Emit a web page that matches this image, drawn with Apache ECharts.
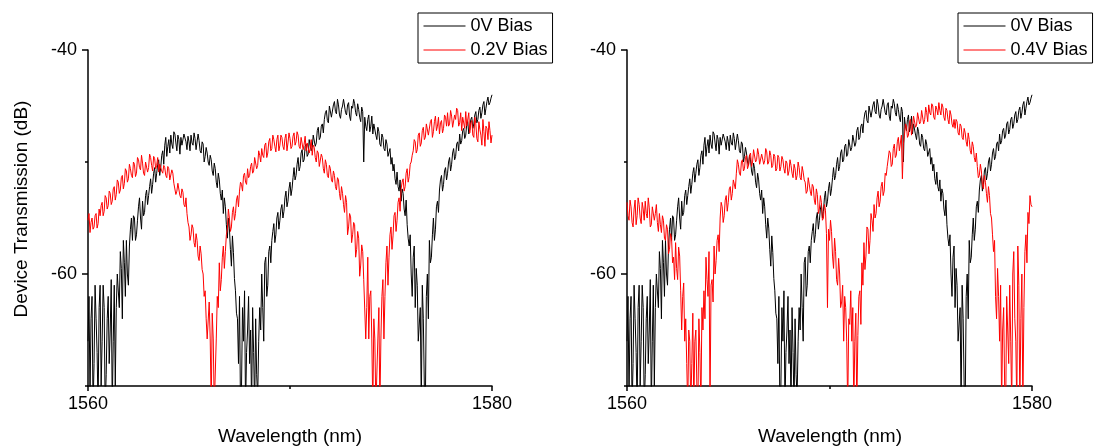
<!DOCTYPE html>
<html>
<head>
<meta charset="utf-8">
<script src="https://cdn.jsdelivr.net/npm/echarts@6/dist/echarts.min.js"></script>
<style>
html,body{margin:0;padding:0;background:#fff;}
#chart{width:1094px;height:447px;}
</style>
</head>
<body>
<div id="chart"></div>
<script>
// Sampling grid: 1560 nm to 1580 nm, 0.05 nm step (401 points)
const wavelengths = Array.from({length: 401}, (_, i) => +(1560 + i * 0.05).toFixed(2));

// 0V Bias (same measurement in both panels), dB
const bias0V = [
  -66,-62,-71,-64,-62,-72,-68,-61,-64,-67,-72,-63,-61,-70,-66,-61,-63,-72,-69,-64,-62,-68,-65,-60.5,-72,-66,-61,-70,-63,-60,
  -60,-63,-58,-59.5,-64,-57,-59,-62,-57,-60,-61,-57.5,
  -56,-55,-57,-54.8,-55,-57,-56.5,-55.2,-54,-53.2,-55,-56,-53.5,-54.8,-54.5,-53,-52.5,-53.8,
  -53,-52.2,-51.5,-52.8,-52,-51,-50.5,-51.8,-51,-50.2,-49.8,-51.2,-50.5,-49.4,-49,-50.2,
  -48.5,-47.8,-49.5,-48.6,-48,-49.2,-47.6,-48.4,-48.8,-47.3,-47.5,-48.3,-49,-47.6,-48,-49.3,-47.8,-48.5,-48.6,-47.5,
  -47.4,-48.2,-48.9,-47.7,-48.2,-49.0,-47.6,-48.3,-48.5,-47.4,-47.9,-48.9,-48.8,-47.5,-48.1,-49.0,-49.2,-48.2,-48.4,-50.0,-49.5,-48.7,
  -49.2,-50.0,-50.3,-49.4,-49.8,-50.8,-51.2,-50.1,-50.6,-51.8,-52.3,-51.0,-51.6,-52.8,-53.4,-52.5,-54.6,-53.2,-54.0,-55.6,
  -56.8,-55.0,-55.9,-57.8,-59.3,-56.6,-58.1,-60.4,-61.5,-63.5,
  -64,-68,-62,-72,-70,-63,-66,-61.5,-72,-67,-65,-62,-68,-65,-72,-63,-67,-72,-64,-69,-71,-66,-63,-65,
  -60,-63,-66,-59,-58.5,-62,-61,-58,-57.5,-59,
  -57,-56.2,-55.5,-57.2,-56.5,-55.0,-54.5,-56.0,-55.2,-54.2,-53.8,-55.0,-54.4,-53.2,-52.6,-54.0,-53.5,-52.4,-51.8,-53.0,-52.4,-51.4,
  -50.5,-51.6,-51.2,-50.2,-49.6,-50.8,-50.4,-49.2,-48.9,-50.0,-49.8,-48.6,-48.4,-49.5,-49.3,-48.0,-47.9,-49.0,-48.7,-47.6,
  -47.5,-48.6,-48.3,-47.2,-46.9,-48.0,-47.8,-46.8,-46.6,-47.4,
  -46.2,-45.6,-45.4,-46.3,-46.5,-45.0,-45.1,-46.0,-45.9,-44.9,-44.6,-45.5,-45.7,-44.4,-44.9,-45.8,-46.1,-45.3,-45.0,-44.4,
  -44.5,-45.6,-45.8,-44.9,-44.7,-45.9,-46.3,-45.0,-45.2,-44.4,-44.8,-45.6,-45.9,-44.8,-45.3,-46.0,-46.4,-45.1,-45.5,-50.0,
  -46.0,-46.8,-47.2,-46.2,-45.8,-47.3,-46.8,-45.9,-47.5,-46.6,-46.6,-47.6,-48.0,-46.9,-47.3,-48.4,-48.6,-47.5,-47.8,-48.8,
  -49.0,-48.0,-48.4,-49.5,-49.6,-48.8,-50.2,-49.6,
  -50.8,-50.2,-51.5,-52.0,-50.9,-52.2,-52.6,-51.6,-53.5,-52.4,-52.8,-54.2,-54.8,-53.4,-55.6,-56.8,
  -57.5,-56.5,-60,-62,-58.5,-57.5,-63,-59.5,-61,-66,-66,-63,-72,-61,-64,-70,-72,-62,
  -60,-64,-57,-59,-58.5,-56.5,-55,-57,-56,-54,-53.5,-54.5,
  -52.5,-51.6,-51.2,-52.6,-52,-50.8,-50.5,-51.6,-51,-50.0,-49.6,-50.8,-50.2,-49.2,-48.8,-49.8,-49.5,-48.4,-48.2,-49.0,
  -47.5,-48.4,-48.1,-47.2,-47.0,-47.9,-47.6,-46.6,-46.4,-47.5,-47.1,-46.2,-46.0,-47.0,-46.6,-45.8,-45.5,-46.5,-46.2,-45.4,
  -45.1,-46.1,-45.6,-44.9,-44.6,-45.8,-45.2,-44.6,-44.2,-44.9,-44.7,-44.3,-44.0
];

// 0.2V Bias (left panel), dB
const bias02V = [
  -55.2,-54.6,-56.3,-55.4,-55,-56.0,-55.8,-54.8,-54.6,-55.9,-55.5,-54.2,
  -54.8,-53.9,-53.6,-54.8,-54.4,-53.0,-53.2,-54.2,-53.9,-52.6,-52.8,-53.8,-53.5,-52.4,-52.2,-53.4,-52.9,-51.6,-51.8,-52.8,
  -52.5,-51.4,-51.2,-52.4,-51.9,-50.6,-50.8,-51.8,-51.5,-50.2,
  -50.6,-51.2,-51.4,-50.0,-50.2,-51.3,-51.0,-49.6,-49.8,-50.5,-50.7,-49.4,-50.1,-51.0,-51.2,-50.0,-49.9,-50.9,-50.5,-49.3,
  -49.6,-50.3,-50.8,-49.5,-49.7,-50.6,-50.3,-49.6,-50.9,-50.2,
  -50.2,-50.8,-51.0,-50.3,-50.5,-51.2,-51.4,-50.4,-50.6,-51.6,-51.5,-50.7,-51.0,-51.9,
  -51.8,-52.9,-52.6,-51.9,-52.0,-53.0,-53.2,-52.4,-52.7,-53.8,-54.0,-53.2,-54.6,-55.4,
  -55.8,-57.0,-56.5,-55.6,-55.9,-57.2,-57.6,-56.4,-57.0,-58.4,-58.8,-57.5,-58.2,-59.6,-60.0,-62.0,
  -61.5,-64,-65.8,-65.8,-62.5,-65.8,-72,-63.5,-65.8,-72,-72,-65.8,
  -62,-63,-59,-61.5,-60.5,-58.5,-57.5,-59.5,-58,-56.5,
  -56,-54.2,-55,-56.2,-55.8,-54.5,-54,-55.2,-54.6,-53.4,-53,-54.0,-52.6,-51.8,
  -52,-52.6,-51.2,-51.0,-51.8,-52.0,-50.6,-51.4,-51.2,-50.4,-50.1,-51.0,-50.8,-49.6,-49.6,-50.6,-50.3,-49.0,-49.4,-50.0,
  -48.8,-49.4,-49.6,-48.5,-48.3,-49.6,-49.2,-48.2,-47.9,-49.0,-48.8,-47.6,-48.0,-48.6,-49.1,-48.0,-47.6,-49.0,-48.5,-47.6,
  -47.8,-48.6,-48.9,-47.9,-47.5,-49.0,-48.3,-47.4,-47.9,-48.8,
  -48.6,-47.7,-47.4,-48.5,-48.2,-47.3,-47.6,-48.6,-48.8,-47.8,-47.9,-48.9,-48.4,-47.7,-49.0,-48.3,-48.2,-49.2,-48.8,-48.0,
  -49.4,-48.5,-48.7,-49.6,-50.0,-49.0,-49.2,-50.4,-50.4,-49.3,-49.6,-50.6,-51.0,-49.8,-50.2,-51.2,-51.4,-50.3,-50.6,-51.6,
  -51.8,-50.8,
  -51.2,-52.2,-52.5,-51.4,-51.6,-52.8,-53.4,-52.2,-52.8,-53.8,-54.5,-53.0,-53.6,-56.5,-55.8,-54.6,-54.9,-57.2,-56.5,-55.4,
  -55.6,-58.5,-57.8,-56.2,-56.8,-60.2,-59.2,-57.4,-58.0,-60.5,
  -60.5,-65.8,-63,-58.5,-65.8,-62,-61.5,-65.8,-72,-64,-65.8,-72,-72,-65.8,-63,-72,-65.8,-62,-60.5,-65.8,-62,-59,
  -57.5,-61,-58.5,-56.5,-55.8,-57.8,-56.6,-54.8,-54.5,-56.2,-55.2,-53.6,-53.2,-54.4,-52.4,-51.8,
  -51.5,-52.6,-52.2,-51.0,-50.6,-51.8,-51.3,-50.2,-50,-49.4,
  -49,-48.0,-48.2,-49.2,-48.9,-47.6,-47.4,-48.6,-48.3,-47.2,-46.9,-48.0,-47.8,-46.6,-46.5,-47.6,-47.6,-46.4,-46.2,-47.8,
  -47.3,-46.4,-45.9,-47.2,-46.8,-46.0,-47.5,-46.5,-46.3,-47.4,-47.0,-45.8,-46.0,-46.8,
  -45.6,-46.8,-46.6,-45.4,-45.9,-46.9,-47.0,-45.8,-46.2,-45.2,-45.4,-46.8,-46.5,-45.6,-47.2,-46.0,-46.1,-47.0,-45.5,-46.8,
  -46.7,-45.6,-47.4,-46.5,-46.3,-47.6,-47.8,-46.0,-46.6,-47.9,-48.2,-46.4,-47.1,-47.6,-48.5,-46.2,-47.3,-48.6,-46.8,-47.0,
  -48.0,-46.4,-47.2,-48.3,-47.6
];

// 0.4V Bias (right panel), dB
const bias04V = [
  -53.6,-54.8,-55.2,-53.4,-54.0,-55.4,-55.8,-54.2,-53.4,-55.6,-54.8,-53.2,-53.8,-55.0,-55.5,-53.6,-54.2,-55.2,-53.5,-54.6,
  -55.0,-53.2,-54.1,-55.8,-55.6,-54.0,-53.9,-55.2,-54.6,-53.8,
  -55.4,-56.2,-54.6,-55.6,-56.3,-54.8,-55.2,-56.8,-57.0,-55.6,-56.0,-58.2,-57.8,-56.4,-56.8,-59.0,
  -58.5,-60.5,-57.2,-59.5,-60.5,-57.6,-58.4,-61.5,-65,-62,-60.8,-66,
  -64,-68,-72,-65,-66,-72,-68,-63.5,-72,-66,-65,-70,-72,-64,-67,-72,-63,-65,
  -61.5,-64,-58.5,-60.5,-62,-58,-72,-61,-60.5,-62.5,-57.5,-60,-58.8,-57,-56.5,-58,
  -55,-53.6,-54,-55.4,-54.8,-53.4,-53,-54.4,-53.6,-52.4,-52.2,-53.4,-52.8,-51.6,-51.5,-52.4,
  -51,-49.8,-50.2,-51.0,-51.2,-50.0,-49.8,-50.8,-50.6,-49.6,-49.4,-50.6,-50.3,-49.4,-49.2,-50.4,-50.0,-48.9,-49.0,-50.0,
  -49.8,-48.8,-49.3,-50.2,-50.1,-49.3,-49.2,-50.2,-49.9,-48.8,
  -49.1,-50.2,-50.0,-49.0,-49.4,-50.5,-50.3,-49.3,-49.5,-50.8,-50.6,-49.4,-49.6,-50.8,-50.4,-49.5,-49.8,-50.6,-51.0,-49.9,
  -50.1,-51.2,-50.8,-49.8,-50.3,-51.0,-51.4,-50.2,-50.6,-51.6,-51.2,-50.0,-50.5,-51.4,-51.6,-50.4,-50.9,-51.6,
  -51.8,-52.8,-52.6,-51.4,-51.5,-52.6,-53.0,-52.0,-52.2,-53.4,-53.8,-52.4,-52.9,-54.6,-54.2,-53.0,-53.6,-55.2,-55.0,-53.8,
  -54.3,-56.4,-63,-56.0,
  -57,-55.2,-56.2,-58.4,-59.5,-56.8,-58,-60.5,-61,-58.6,-60,-63,
  -62.5,-61,-66,-62,-63,-66,-72,-64,-64.5,-61.5,-66,-63,-72,-66,-63.5,-72,-65.5,-62,-61.5,-64.5,
  -59,-61,-57.2,-59.6,-58.4,-55.8,-56,-58.2,-57,-54.6,-55.2,-56.2,
  -53.8,-55.0,-54.6,-53.2,-52.6,-54.0,-53.5,-52.2,-51.8,-53.0,-52.6,-51.0,-51.2,-50.4,
  -50.3,-49.0,-49.2,-50.4,-50.2,-48.8,-48.4,-49.6,-49.4,-48.2,-47.8,-49.0,-48.9,-47.6,
  -51.5,-48.4,-47.6,-46.6,-46.8,-47.8,-47.6,-46.4,-46.2,-47.6,-47.0,-45.9,-45.8,-46.9,-46.7,-45.6,-45.5,-46.6,-46.4,-45.4,
  -45.3,-46.6,-46.2,-45.1,-45.6,-46.4,
  -44.9,-45.6,-45.8,-44.8,-45.0,-46.0,-46.2,-45.0,-45.3,-45.8,-44.7,-45.4,-45.8,-44.8,-45.1,-46.0,-46.3,-45.2,-45.4,-46.2,
  -46.6,-45.4,-45.8,-46.6,-46.9,-46.2,
  -47.0,-46.2,-46.4,-47.4,-47.6,-46.6,-46.8,-47.8,-48.0,-47.0,-47.4,-48.2,-48.6,-47.4,-48.0,-49.0,-49.3,-48.2,-48.6,-49.6,
  -50.0,-49.2,
  -50.4,-51.4,-51.2,-50.2,-50.8,-52.0,-52.4,-51.2,-51.8,-52.8,-53.6,-52.2,-53.0,-54.6,-55.0,-56.5,
  -58,-57,-62,-64,-59.5,-62,-66,-61,-72,-65,-63,-70,-72,-62,-65,-68,
  -61,-66,-72,-60,-58,-64,-66,-72,-57.5,-61,-72,-64,-60,-72,-63,-58,-56.5,-59,
  -54.5,-55.5,-53,-53.8,-54
];

const xMajorTicks = [1560, 1580];
const xMinorTicks = [1570];
const yMajorTicks = [-60, -40];
const yMinorTicks = [-70, -50];

const pair = (vals) => vals.slice(0, wavelengths.length).map((v, i) => [wavelengths[i], v]);

const FONT = '"Liberation Sans", Arial, sans-serif';
const axisLineStyle = { color: '#000', width: 1.5 };

function majorX(gi) {
  return {
    type: 'value', gridIndex: gi, position: 'bottom', min: 1560, max: 1580, interval: 10,
    axisLine: { show: true, onZero: false, lineStyle: axisLineStyle },
    axisTick: { show: true, length: 5, customValues: xMajorTicks, lineStyle: axisLineStyle },
    axisLabel: { customValues: xMajorTicks, formatter: (v) => String(v), color: '#000', fontSize: 18, fontFamily: FONT, margin: 9 },
    splitLine: { show: false }
  };
}
function minorX(gi) {
  return {
    type: 'value', gridIndex: gi, position: 'bottom', min: 1560, max: 1580, interval: 10,
    axisLine: { show: false, onZero: false },
    axisTick: { show: true, length: 3, customValues: xMinorTicks, lineStyle: axisLineStyle },
    axisLabel: { show: false },
    splitLine: { show: false }
  };
}
function majorY(gi) {
  return {
    type: 'value', gridIndex: gi, position: 'left', min: -70, max: -40, interval: 10,
    axisLine: { show: true, onZero: false, lineStyle: axisLineStyle },
    axisTick: { show: true, length: 6, customValues: yMajorTicks, lineStyle: axisLineStyle },
    axisLabel: { customValues: yMajorTicks, formatter: (v) => String(v), color: '#000', fontSize: 18, fontFamily: FONT, margin: 11 },
    splitLine: { show: false }
  };
}
function minorY(gi) {
  return {
    type: 'value', gridIndex: gi, position: 'left', min: -70, max: -40, interval: 10,
    axisLine: { show: false, onZero: false },
    axisTick: { show: true, length: 3, customValues: yMinorTicks, lineStyle: axisLineStyle },
    axisLabel: { show: false },
    splitLine: { show: false }
  };
}

function lineSeries(name, color, xi, yi, vals) {
  return {
    name: name, type: 'line', xAxisIndex: xi, yAxisIndex: yi,
    data: pair(vals), symbol: 'none', showSymbol: false,
    lineStyle: { color: color, width: 1 }, itemStyle: { color: color },
    clip: true, animation: false, z: color === '#ff0000' ? 3 : 2
  };
}

function legendAt(left, names) {
  return {
    left: left, top: 13, orient: 'vertical', selectedMode: false,
    data: names,
    borderColor: '#000', borderWidth: 1, padding: [3, 5, 3, 5],
    itemGap: 4, itemWidth: 42, itemHeight: 20,
    itemStyle: { opacity: 0 },
    lineStyle: { width: 1 },
    textStyle: { color: '#000', fontSize: 18, fontFamily: FONT, lineHeight: 20 }
  };
}

const chart = echarts.init(document.getElementById('chart'), null, { renderer: 'canvas' });
chart.setOption({
  backgroundColor: '#fff',
  animation: false,
  grid: [
    { left: 88, top: 50, width: 404, height: 336 },
    { left: 627, top: 50, width: 405, height: 336 }
  ],
  xAxis: [majorX(0), majorX(1), minorX(0), minorX(1)],
  yAxis: [majorY(0), majorY(1), minorY(0), minorY(1)],
  legend: [
    legendAt(418, ['0V Bias', '0.2V Bias']),
    legendAt(958, ['0V Bias', '0.4V Bias'])
  ],
  graphic: [
    { type: 'text', x: 22, y: 209, rotation: Math.PI / 2,
      style: { text: 'Device Transmission (dB)', fill: '#000', font: '19px ' + FONT, textAlign: 'center', textVerticalAlign: 'middle' } },
    { type: 'text', x: 290, y: 437,
      style: { text: 'Wavelength (nm)', fill: '#000', font: '19px ' + FONT, textAlign: 'center', textVerticalAlign: 'middle' } },
    { type: 'text', x: 830, y: 437,
      style: { text: 'Wavelength (nm)', fill: '#000', font: '19px ' + FONT, textAlign: 'center', textVerticalAlign: 'middle' } }
  ],
  series: [
    lineSeries('0V Bias', '#000000', 0, 0, bias0V),
    lineSeries('0.2V Bias', '#ff0000', 0, 0, bias02V),
    lineSeries('0V Bias', '#000000', 1, 1, bias0V),
    lineSeries('0.4V Bias', '#ff0000', 1, 1, bias04V)
  ]
});
</script>
</body>
</html>
